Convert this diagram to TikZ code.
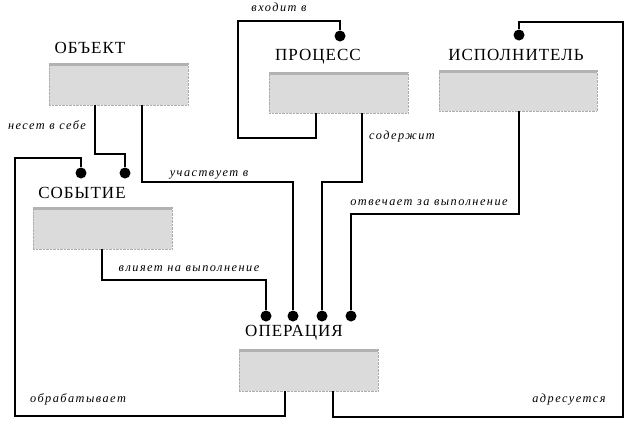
\documentclass[tikz,border=0pt]{standalone}
\usepackage{fontspec}
\setmainfont{Liberation Serif}
\newfontfamily\ttl{Liberation Serif}[LetterSpace=6]
\newfontfamily\lab{Liberation Serif}[LetterSpace=12]
\begin{document}
\begin{tikzpicture}[x=1pt,y=-1pt,
  ent/.style={draw=gray!65,densely dotted,fill=gray!28,minimum height=42pt,minimum width=139pt,inner sep=0pt},
  ttlnode/.style={font=\ttl\fontsize{17}{17}\selectfont,inner sep=0pt},
  lbl/.style={font=\lab\itshape\fontsize{12.3}{13}\selectfont,inner sep=0pt},
  dotn/.style={circle,fill=black,minimum size=11pt,inner sep=0pt},
  conn/.style={line width=1.5pt,black}]
\useasboundingbox (0,0) rectangle (630,426);
\fill[white] (0,0) rectangle (630,426);
% boxes
\node[ent] (obj) at (118.5,84) {};
\node[ent,minimum height=41pt] (proc) at (338.5,92.5) {};
\node[ent,minimum height=41pt,minimum width=158pt] (isp) at (518,90.5) {};
\node[ent] (sob) at (102.5,228) {};
\node[ent] (op) at (308.5,370) {};
\foreach \b in {obj,proc,isp,sob,op}{
  \fill[gray!60] (\b.north west) rectangle ([yshift=-3pt]\b.north east);}
% titles
\node[ttlnode] (tobj) at (90,48) {ОБЪЕКТ};
\node[ttlnode] (tproc) at (318,57) {ПРОЦЕСС};
\node[ttlnode] (tisp) at (516,55) {ИСПОЛНИТЕЛЬ};
\node[ttlnode] (tsob) at (82,193) {СОБЫТИЕ};
\node[ttlnode] (top) at (294,333) {ОПЕРАЦИЯ};
% dots
\node[dotn] (ds1) at (81,173) {};
\node[dotn] (ds2) at (125,173) {};
\node[dotn] (dp) at (340,36) {};
\node[dotn] (di) at (519,35) {};
\node[dotn] (do1) at (266,316) {};
\node[dotn] (do2) at (293,316) {};
\node[dotn] (do3) at (322,316) {};
\node[dotn] (do4) at (351,316) {};
% connectors
\draw[conn] (obj.south -| 95,0) |- (125,154) -- (ds2);
\draw[conn] (op.south -| 285,0) |- (15,416) |- (81,158) -- (ds1);
\draw[conn] (obj.south -| 142,0) |- (293,182) -- (do2);
\draw[conn] (sob.south -| 102,0) |- (266,280) -- (do1);
\draw[conn] (proc.south -| 316,0) |- (238,138) |- (340,21) -- (dp);
\draw[conn] (proc.south -| 362,0) |- (322,182) -- (do3);
\draw[conn] (isp.south -| 519,0) |- (351,214) -- (do4);
\draw[conn] (op.south -| 333,0) |- (623,417) |- (519,22) -- (di);
% labels
\node[lbl] (l1) at (47,125) {несет в себе};
\node[lbl] (l2) at (78,399) {обрабатывает};
\node[lbl] (l3) at (209,175) {участвует в};
\node[lbl] (l4) at (189,269) {влияет на выполнение};
\node[lbl] (l5) at (279,7) {входит в};
\node[lbl] (l6) at (402,137) {содержит};
\node[lbl] (l7) at (429,203) {отвечает за выполнение};
\node[lbl] (l8) at (569,400) {адресуется};
\end{tikzpicture}
\end{document}
